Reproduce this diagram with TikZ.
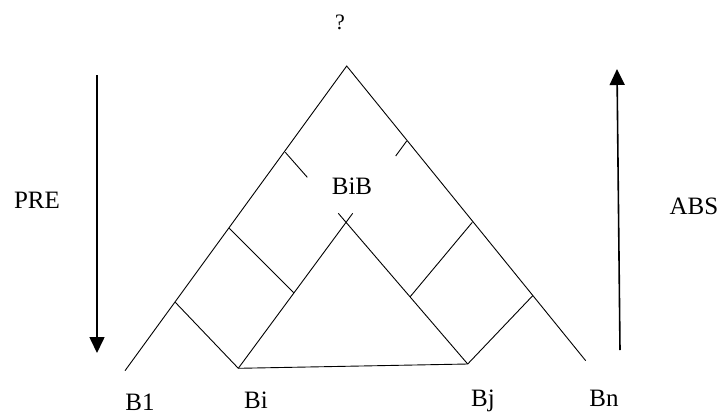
\documentclass[tikz,border=0pt]{standalone}
\usepackage{fontspec}
\setmainfont{Liberation Serif}
\usetikzlibrary{arrows.meta}
\begin{document}
\begin{tikzpicture}[x=1pt,y=-1pt,
  edge/.style={draw=black,line width=0.9pt},
  bigarrow/.style={draw=black,line width=1.6pt,-{Triangle[width=15pt,length=16pt]}},
  lbl/.style={inner sep=0pt,anchor=base,font=\fontsize{25}{25}\selectfont}]
\useasboundingbox (0,0) rectangle (721,416);
% outer triangle
\coordinate (A) at (346.7,66);
\coordinate (L1) at (125,370.7);
\coordinate (R1) at (585.7,360.7);
\coordinate (Bi) at (238.3,368.3);
\coordinate (Bj) at (467.7,364);
\coordinate (I) at (346,221.7);
\coordinate (Il) at (352.7,213.3);
\coordinate (Ir) at (338.3,213.3);
% rungs
\coordinate (la) at (175.3,302.3);
\coordinate (lb) at (229.3,228.3);
\coordinate (lb2) at (293.6,292.7);
\coordinate (lt) at (285.3,152.3);
\coordinate (lt2) at (307.3,177.3);
\coordinate (ra) at (532.7,295.7);
\coordinate (rb) at (472.3,222.3);
\coordinate (rb2) at (410.2,296.7);
\coordinate (rt) at (406.7,141);
\coordinate (rt2) at (395.7,156);
% arrows
\coordinate (pa1) at (97,75);
\coordinate (pa2) at (97,353);
\coordinate (aa1) at (620,350);
\coordinate (aa2) at (617,69);

\draw[edge] (L1) -- (A) -- (R1);
\draw[edge] (Bi) -- (Il);
\draw[edge] (Bj) -- (Ir);
\draw[edge] (Bi) -- (Bj);
\draw[edge] (la) -- (Bi);
\draw[edge] (lb) -- (lb2);
\draw[edge] (lt) -- (lt2);
\draw[edge] (ra) -- (Bj);
\draw[edge] (rb) -- (rb2);
\draw[edge] (rt) -- (rt2);

\draw[bigarrow] (pa1) -- (pa2);
\draw[bigarrow] (aa1) -- (aa2);

\node[lbl,font=\fontsize{22}{22}\selectfont] (q) at (340,29) {?};
\node[lbl] (bib) at (352,194) {BiB};
\node[lbl] (pre) at (37,208) {PRE};
\node[lbl] (abs) at (694,214) {ABS};
\node[lbl] (b1) at (140,410) {B1};
\node[lbl] (bil) at (256,408) {Bi};
\node[lbl] (bjl) at (483,406) {Bj};
\node[lbl] (bn) at (604,406) {Bn};
\end{tikzpicture}
\end{document}
